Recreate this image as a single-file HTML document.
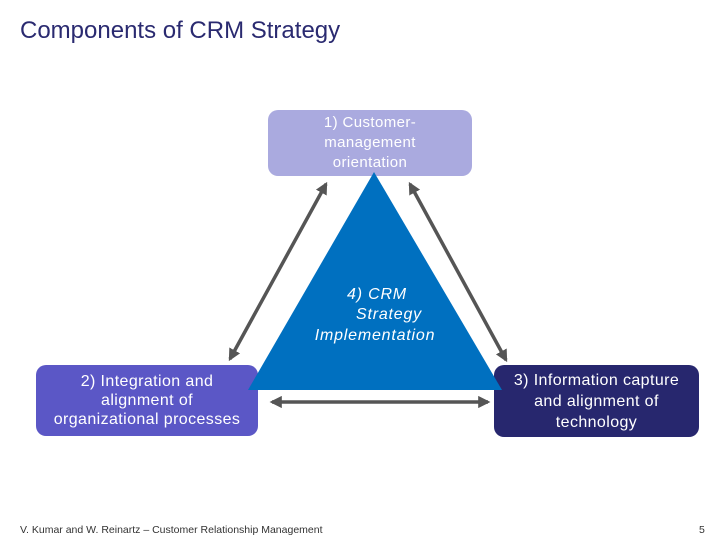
<!DOCTYPE html>
<html><head><style>
body{margin:0;width:720px;height:540px;background:#fff;position:relative;overflow:hidden;font-family:"Liberation Sans",sans-serif}
.t{position:absolute;left:20px;top:17px;font-size:24px;color:#2a2a70}
.b{position:absolute;border-radius:10px;color:#fff;text-align:center;font-size:16px;letter-spacing:0.4px;line-height:19px;display:flex;align-items:center;justify-content:center}
</style></head><body>
<div class="t">Components of CRM Strategy</div>
<div class="b" style="left:268px;top:110px;width:204px;height:66px;background:#aaaadf;line-height:20px;font-size:15px">1) Customer-<br>management<br>orientation</div>
<div class="b" style="left:36px;top:365px;width:222px;height:71px;background:#5b57c6">2) Integration and<br>alignment of<br>organizational processes</div>
<div class="b" style="left:494px;top:365px;width:205px;height:72px;background:#27276e;line-height:21px">3) Information capture<br>and alignment of<br>technology</div>
<svg width="720" height="540" style="position:absolute;left:0;top:0">
<defs><marker id="a" viewBox="0 0 10 10" refX="8" refY="5" markerWidth="3.5" markerHeight="3.5" orient="auto-start-reverse"><path d="M0,0L10,5L0,10z" fill="#555"/></marker></defs>
<polygon points="374,172 248,390 502,390" fill="#0070c0"/>
<g stroke="#555" stroke-width="3.5" marker-start="url(#a)" marker-end="url(#a)">
<line x1="326" y1="184" x2="230" y2="359"/>
<line x1="410" y1="184" x2="506" y2="360"/>
<line x1="272" y1="402" x2="488" y2="402"/>
</g>
<g fill="#fff" font-style="italic" font-size="16" text-anchor="middle" font-family="Liberation Sans" letter-spacing="0.8">
<text x="377" y="299">4) CRM</text>
<text x="389" y="319">Strategy</text>
<text x="375" y="340">Implementation</text>
</g>
<text x="20" y="533" fill="#333" font-size="10.5" font-family="Liberation Sans">V. Kumar and W. Reinartz – Customer Relationship Management</text>
<text x="699" y="533" fill="#333" font-size="10.5" font-family="Liberation Sans">5</text>
</svg>
</body></html>
